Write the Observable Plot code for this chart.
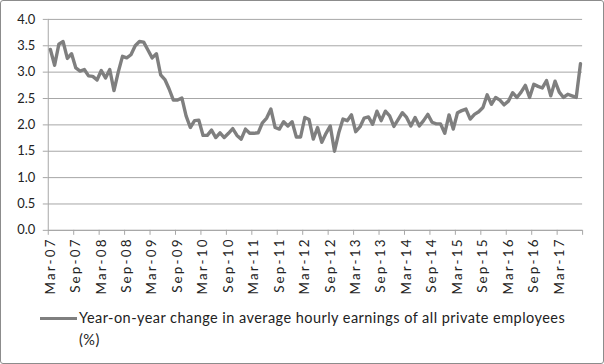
<!DOCTYPE html>
<html><head><meta charset="utf-8">
<script src="https://cdn.jsdelivr.net/npm/d3@7"></script>
<script src="https://cdn.jsdelivr.net/npm/@observablehq/plot@0.6"></script>
<style>
body{margin:0;background:#fff;}
#frame{position:relative;width:604px;height:364px;box-sizing:border-box;border:1px solid #8c8c8c;border-radius:3px;overflow:hidden;font-family:Lato,"Liberation Sans",sans-serif;background:#fff;}
#chart{position:absolute;left:-1px;top:-1px;}
#legend{position:absolute;left:39px;top:306px;font-size:14.5px;letter-spacing:0.45px;color:#222;line-height:22px;}
#legend .sw{position:absolute;left:0;top:10px;width:37px;height:3px;background:#7f7f7f;}
#legend .tx{margin-left:39px;}
.xl text{letter-spacing:2.2px;}
</style></head>
<body>
<div id="frame"><div id="chart"></div>
<div id="legend"><div class="sw"></div><div class="tx">Year-on-year change in average hourly earnings of all private employees<br>(%)</div></div>
</div>
<script>
// Monthly values, Mar-07 .. Aug-17 (index 0 = Mar-07)
const values = [
 3.43,3.13,3.53,3.58,3.26,3.35,3.08,3.02,3.05,2.93,2.92,2.85,
 3.03,2.89,3.05,2.65,3.00,3.30,3.27,3.33,3.50,3.58,3.57,3.42,
 3.27,3.35,2.95,2.86,2.68,2.47,2.47,2.51,2.17,1.95,2.08,2.09,
 1.80,1.80,1.90,1.76,1.85,1.76,1.84,1.93,1.80,1.73,1.92,1.84,
 1.84,1.85,2.04,2.13,2.30,1.95,1.92,2.06,1.98,2.06,1.77,1.77,
 2.14,2.10,1.73,1.95,1.67,1.84,1.98,1.50,1.85,2.11,2.08,2.19,
 1.87,1.96,2.13,2.15,2.01,2.26,2.08,2.26,2.17,1.97,2.10,2.23,
 2.14,1.98,2.14,1.98,2.08,2.20,2.05,2.02,2.02,1.84,2.19,1.92,
 2.23,2.27,2.30,2.11,2.20,2.25,2.33,2.57,2.39,2.52,2.47,2.38,
 2.45,2.61,2.52,2.62,2.75,2.52,2.77,2.73,2.70,2.84,2.55,2.83,
 2.62,2.52,2.58,2.55,2.52,3.16
];
const tickLabels = ["Mar-07","Sep-07","Mar-08","Sep-08","Mar-09","Sep-09","Mar-10","Sep-10","Mar-11","Sep-11","Mar-12","Sep-12","Mar-13","Sep-13","Mar-14","Sep-14","Mar-15","Sep-15","Mar-16","Sep-16","Mar-17"];
const yTicks = [0,0.5,1,1.5,2,2.5,3,3.5,4];

const data = values.map((v, i) => ({i, v}));
const labelIdx = tickLabels.map((_, k) => k * 6);
const boundaries = [...new Set(d3.range(0, values.length + 1, 6).map(k => k - 0.5).concat([values.length - 0.5]))];

const grid = "#a6a6a6";
const plot = Plot.plot({
  width: 606, height: 302,
  marginLeft: 48, marginRight: 21, marginTop: 19, marginBottom: 71,
  style: {fontFamily: "Lato, 'Liberation Sans', sans-serif", fontSize: "13px", color: "#222", background: "transparent"},
  x: {domain: [-0.5, values.length - 0.5], axis: null, label: null},
  y: {domain: [0, 4], axis: null, label: null},
  marks: [
    Plot.gridY(yTicks, {stroke: grid, strokeOpacity: 1, strokeWidth: 1}),
    Plot.axisY(yTicks, {tickSize: 5, tickPadding: 8, stroke: grid, tickFormat: d => d.toFixed(1), fill: "#222", fontSize: 13, label: null}),
    Plot.ruleX([-0.5], {stroke: grid, strokeWidth: 1}),
    Plot.ruleY([0], {stroke: grid, strokeWidth: 1}),
    Plot.axisX(boundaries, {tickSize: 5, stroke: grid, tickFormat: () => "", label: null}),
    Plot.axisX(labelIdx, {tickSize: 0, tickPadding: 7, tickRotate: -90, tickFormat: i => tickLabels[i / 6], fill: "#222", fontSize: 13.5, label: null, className: "xl"}),
    Plot.lineY(data, {x: "i", y: "v", stroke: "#7f7f7f", strokeWidth: 3.4, strokeLinejoin: "round", strokeLinecap: "round"})
  ]
});
document.getElementById("chart").appendChild(plot);
</script>
</body></html>
